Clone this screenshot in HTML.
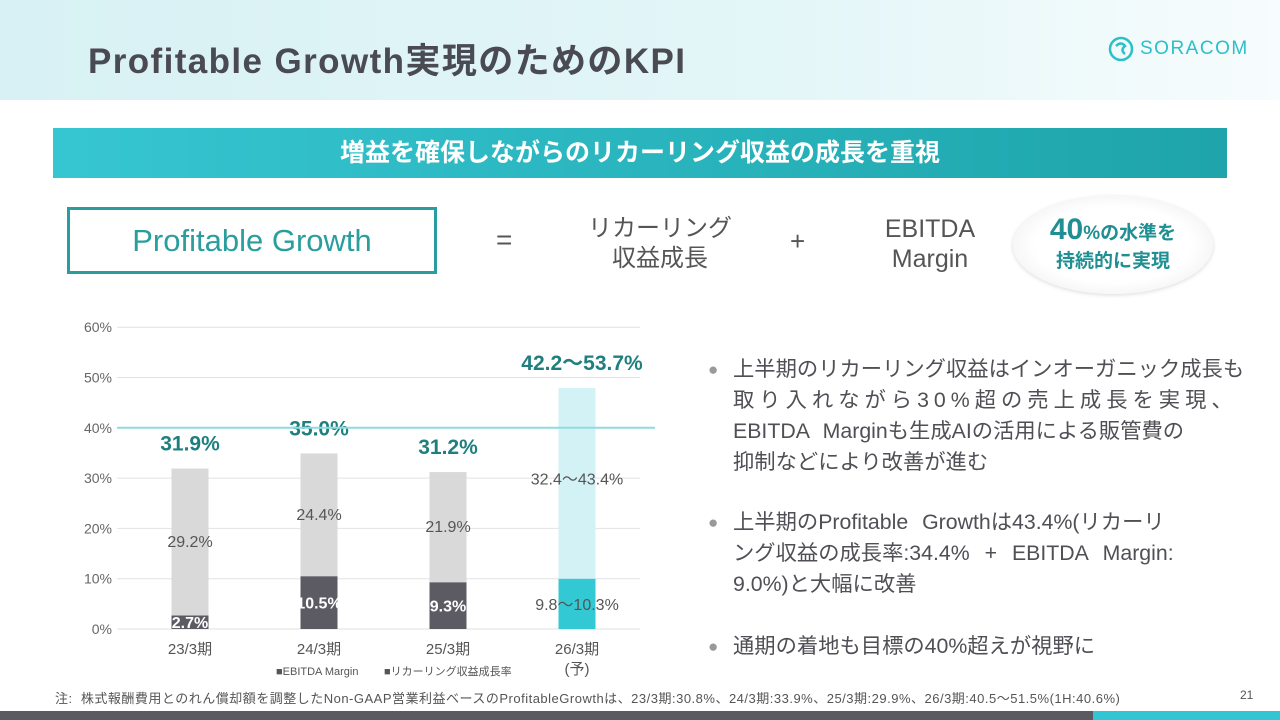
<!DOCTYPE html>
<html><head><meta charset="utf-8"><style>
*{margin:0;padding:0;box-sizing:border-box}
body{width:1280px;height:720px;overflow:hidden;background:#fff;font-family:"Liberation Sans","Noto Sans CJK JP",sans-serif;color:#555;position:relative}
.abs{position:absolute}
.bl{white-space:nowrap}
</style></head><body>
<div class="abs" style="left:0;top:0;width:1280px;height:100px;background:linear-gradient(90deg,#d8f1f4,#e3f6f8 60%,#f7fcfd)"></div>
<div class="abs" style="left:88px;top:33px;font-size:35px;color:#4a4a52;letter-spacing:1.4px;font-weight:bold">Profitable Growth実現のためのKPI</div>
<div class="abs" style="left:1108px;top:36px;display:flex;align-items:center;color:#2bbfc9;font-size:19px;letter-spacing:1.5px">
<svg width="26" height="26" viewBox="0 0 26 26"><circle cx="13" cy="13" r="11" fill="none" stroke="#2bbfc9" stroke-width="2.5"/><path d="M8 10 Q13 5 17 10 Q12 14 17 18" fill="none" stroke="#2bbfc9" stroke-width="2.5"/></svg><span style="margin-left:6px">SORACOM</span></div>
<div class="abs" style="left:53px;top:128px;width:1174px;height:50px;background:linear-gradient(90deg,#36c6d2,#1ea4aa);color:#fff;font-size:25px;font-weight:bold;text-align:center;line-height:50px">増益を確保しながらのリカーリング収益の成長を重視</div>
<div class="abs" style="left:67px;top:207px;width:370px;height:67px;border:3px solid #2a9e9e;color:#2a9e9e;font-size:31px;text-align:center;line-height:61px">Profitable Growth</div>
<div class="abs" style="left:496px;top:224px;font-size:28px;color:#555">=</div>
<div class="abs" style="left:580px;top:214px;width:160px;text-align:center;font-size:24px;line-height:30px;color:#555">リカーリング<br>収益成長</div>
<div class="abs" style="left:790px;top:226px;font-size:26px;color:#555">+</div>
<div class="abs" style="left:860px;top:214px;width:140px;text-align:center;font-size:25px;line-height:30px;color:#555">EBITDA<br>Margin</div>
<div class="abs" style="left:1013px;top:196px;width:200px;height:98px;border-radius:50%;background:radial-gradient(#fff 55%,#e8e8e8);box-shadow:0 1px 4px rgba(0,0,0,.15);text-align:center;color:#1f8f93;font-weight:bold;padding-top:20px;font-size:19px;line-height:28px"><span style="font-size:30px">40</span>%の水準を<br>持続的に実現</div>

<svg class="abs" style="left:0;top:300px" width="680" height="380" id="chart"></svg>

<div class="abs" style="left:708px;top:354px;width:540px;font-size:21.3px;line-height:31px;color:#4f4f55">
<div style="display:flex"><span style="color:#999;width:25px;flex:none;font-size:17px">●</span><span><span class="bl">上半期のリカーリング収益はインオーガニック成長も</span><br><span class="bl" style="letter-spacing:5px">取り入れながら30%超の売上成長を実現、</span><br><span class="bl" style="word-spacing:8px">EBITDA Marginも生成AIの活用による販管費の</span><br><span class="bl">抑制などにより改善が進む</span></span></div>
<div style="display:flex;margin-top:29px"><span style="color:#999;width:25px;flex:none;font-size:17px">●</span><span><span class="bl" style="word-spacing:8px">上半期のProfitable Growthは43.4%(リカーリ</span><br><span class="bl" style="word-spacing:9px">ング収益の成長率:34.4% + EBITDA Margin:</span><br><span class="bl">9.0%)と大幅に改善</span></span></div>
<div style="display:flex;margin-top:31px"><span style="color:#999;width:25px;flex:none;font-size:17px">●</span><span class="bl">通期の着地も目標の40%超えが視野に</span></div>
</div>
<div class="abs" style="left:55px;top:688px;font-size:13px;color:#555;white-space:nowrap;letter-spacing:0.5px">注:&nbsp; 株式報酬費用とのれん償却額を調整したNon-GAAP営業利益ベースのProfitableGrowthは、23/3期:30.8%、24/3期:33.9%、25/3期:29.9%、26/3期:40.5～51.5%(1H:40.6%)</div>
<div class="abs" style="left:1240px;top:688px;font-size:12px;color:#555">21</div>
<div class="abs" style="left:0;top:711px;width:1093px;height:9px;background:#5b5a62"></div>
<div class="abs" style="left:1093px;top:711px;width:187px;height:9px;background:#33c6d2"></div>

<script>
const categories=["23/3期","24/3期","25/3期","26/3期"];
const ebitda=[2.7,10.5,9.3,10.0];
const recurring=[29.2,24.4,21.9,37.9];
const ebitdaLabels=["2.7%","10.5%","9.3%","9.8～10.3%"];
const recurringLabels=["29.2%","24.4%","21.9%","32.4～43.4%"];
const totalLabels=["31.9%","35.0%","31.2%","42.2～53.7%"];
const yTicks=[0,10,20,30,40,50,60];
const targetLine=40;
const svg=document.getElementById('chart');const NS='http://www.w3.org/2000/svg';
const y0=329,pxPer=5.03,xL=117,xR=640,bw=37;
const ys=v=>y0-v*pxPer;
const xs=i=>190+i*129;
function mk(t,a,txt){const e=document.createElementNS(NS,t);for(const k in a)e.setAttribute(k,a[k]);if(txt!=null)e.textContent=txt;svg.appendChild(e);return e;}
const F='"Liberation Sans Narrow","Liberation Sans","Noto Sans CJK JP",sans-serif';
yTicks.forEach(v=>{
 const g=mk('line',{x1:xL,x2:xR,y1:ys(v),y2:ys(v),stroke:'#e2e2e2','stroke-width':1});
 
 
 const t=mk('text',{x:112,y:ys(v)+5,'text-anchor':'end','font-size':14,fill:'#666','font-family':F},v+'%');
 
 
});
categories.forEach((c,i)=>{
 const x=xs(i),last=i===3;
 const r1=mk('rect',{x:x-bw/2,y:ys(ebitda[i]),width:bw,height:ebitda[i]*pxPer,fill:last?'#33c9d4':'#5c5b63'});
 
 
 const r2=mk('rect',{x:x-bw/2,y:ys(ebitda[i]+recurring[i]),width:bw,height:recurring[i]*pxPer,fill:last?'#d3f2f5':'#d9d9d9'});
 
 
 const l1=mk('text',{x:x,y:ys(ebitda[i]/2)+6,'text-anchor':'middle','font-size':16,'font-weight':last?'normal':'bold',fill:last?'#555':'#fff','font-family':F},ebitdaLabels[i]);
 
 
 const l2=mk('text',{x:x,y:ys(ebitda[i]+recurring[i]*(last?0.52:0.5))+5,'text-anchor':'middle','font-size':16,fill:'#555','font-family':F},recurringLabels[i]);
 
 
 const l3=mk('text',{x:x+(last?5:0),y:ys(ebitda[i]+recurring[i])-18,'text-anchor':'middle','font-size':21,'font-weight':'bold',fill:'#1f7f7f','font-family':F},totalLabels[i]);
 
 
 const l4=mk('text',{x:x,y:y0+25,'text-anchor':'middle','font-size':15,fill:'#555','font-family':F},c);
 
 
});
const pl=mk('text',{x:xs(3),y:y0+45,'text-anchor':'middle','font-size':15,fill:'#555','font-family':F},'(予)');


const tl=mk('line',{x1:xL,x2:655,y1:ys(targetLine),y2:ys(targetLine),stroke:'#8fdbe1','stroke-width':2});


const lg1=mk('text',{x:276,y:y0+46,'font-size':11,fill:'#555','font-family':F},'■EBITDA Margin');


const lg2=mk('text',{x:384,y:y0+46,'font-size':11,fill:'#555','font-family':F},'■リカーリング収益成長率');


</script>
</body></html>
